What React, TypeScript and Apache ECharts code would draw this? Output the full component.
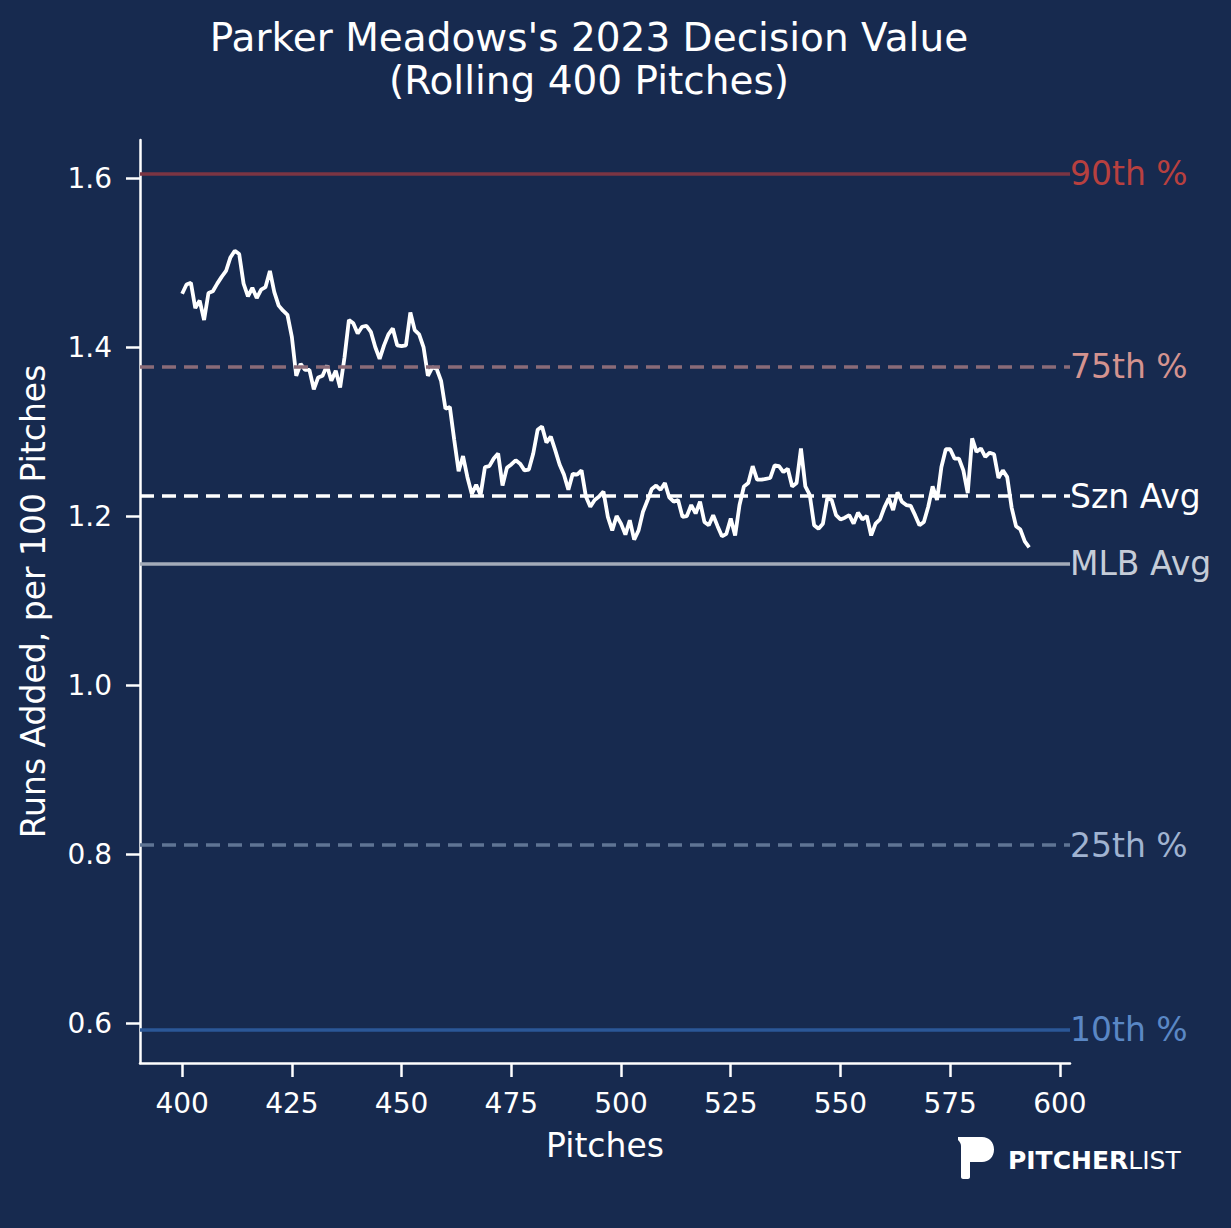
import { useEffect, useRef } from 'react'
import * as echarts from 'echarts'

// Rolling decision value, one point per pitch starting at pitch 400
const firstPitch = 400
const rollingValues = [
  1.463, 1.474, 1.476, 1.446, 1.455, 1.432, 1.464, 1.466, 1.475, 1.483,
  1.490, 1.506, 1.514, 1.510, 1.475, 1.460, 1.470, 1.458, 1.468, 1.471,
  1.490, 1.465, 1.449, 1.443, 1.438, 1.412, 1.366, 1.380, 1.373, 1.373,
  1.350, 1.364, 1.366, 1.378, 1.360, 1.372, 1.352, 1.388, 1.432, 1.428,
  1.416, 1.424, 1.425, 1.418, 1.400, 1.386, 1.402, 1.415, 1.422, 1.402,
  1.401, 1.402, 1.441, 1.420, 1.415, 1.400, 1.366, 1.376, 1.374, 1.360,
  1.327, 1.329, 1.290, 1.253, 1.271, 1.246, 1.226, 1.237, 1.225, 1.258,
  1.259, 1.268, 1.274, 1.236, 1.257, 1.261, 1.266, 1.262, 1.254, 1.255,
  1.274, 1.302, 1.306, 1.287, 1.294, 1.278, 1.261, 1.249, 1.231, 1.250,
  1.249, 1.254, 1.223, 1.211, 1.219, 1.223, 1.229, 1.199, 1.183, 1.200,
  1.191, 1.178, 1.195, 1.172, 1.183, 1.205, 1.218, 1.232, 1.236, 1.231,
  1.239, 1.222, 1.217, 1.219, 1.199, 1.200, 1.213, 1.203, 1.217, 1.193,
  1.189, 1.201, 1.188, 1.176, 1.179, 1.197, 1.177, 1.213, 1.235, 1.239,
  1.259, 1.243, 1.243, 1.244, 1.245, 1.260, 1.259, 1.252, 1.256, 1.235,
  1.239, 1.280, 1.235, 1.225, 1.189, 1.185, 1.191, 1.221, 1.219, 1.201,
  1.196, 1.198, 1.201, 1.191, 1.204, 1.196, 1.200, 1.177, 1.191, 1.196,
  1.210, 1.221, 1.207, 1.228, 1.217, 1.213, 1.212, 1.201, 1.189, 1.193,
  1.211, 1.235, 1.219, 1.258, 1.279, 1.279, 1.268, 1.268, 1.254, 1.227,
  1.292, 1.276, 1.280, 1.270, 1.275, 1.273, 1.245, 1.254, 1.246, 1.210,
  1.188, 1.184, 1.170, 1.163
]

// Reference lines
const refLabels = ['90th %', '75th %', 'Szn Avg', 'MLB Avg', '25th %', '10th %']
const refValues = [1.605, 1.377, 1.2235, 1.1435, 0.8105, 0.5925]
const refDashed = [false, true, true, false, true, false]
const refLineColors = ['#7b3543', '#8a6b78', '#ffffff', '#a3abb9', '#5f7494', '#2b5797']
const refTextColors = ['#b8403f', '#d4938f', '#ffffff', '#c5ccd8', '#a0b3d1', '#5a87c5']

const xTicks = [400, 425, 450, 475, 500, 525, 550, 575, 600]
const yTicks = [0.6, 0.8, 1.0, 1.2, 1.4, 1.6]

const BG = '#172a4f'
const FONT = '"DejaVu Sans", sans-serif'

echarts.graphic.registerShape(
  'plLogo',
  echarts.graphic.extendPath(
    'M0 0 L24 0 C31 0 36 5 36 12.5 C36 20 31 25 24 25 L12 25 L12 40 C12 41 11 42 10 42 L5 42 C4 42 3 41 3 40 L3 9 C3 7 2 5 0 3 Z',
    {}
  )
)

export default function App() {
  const chartRef = useRef<HTMLDivElement>(null)

  useEffect(() => {
    const host = chartRef.current
    if (!host) return
    document.body.style.margin = '0'
    document.body.style.background = BG

    const chart = echarts.init(host, null, { renderer: 'svg' })

    const option: echarts.EChartsOption = {
      animation: false,
      backgroundColor: BG,
      title: {
        text: "Parker Meadows's 2023 Decision Value\n(Rolling 400 Pitches)",
        left: 584,
        top: 11,
        textAlign: 'center',
        textStyle: {
          color: '#ffffff',
          fontFamily: FONT,
          fontWeight: 'normal',
          fontSize: 39,
          lineHeight: 43
        }
      },
      grid: {
        left: 140,
        right: 161,
        top: 140,
        bottom: 165
      },
      xAxis: {
        type: 'value',
        min: 390.4,
        max: 602.3,
        name: 'Pitches',
        nameLocation: 'middle',
        nameGap: 66,
        nameTextStyle: { color: '#ffffff', fontFamily: FONT, fontSize: 33 },
        splitLine: { show: false },
        axisLine: { lineStyle: { color: '#ffffff', width: 2.5 } },
        axisTick: {
          customValues: xTicks,
          length: 14,
          lineStyle: { color: '#ffffff', width: 2.5 }
        },
        axisLabel: {
          customValues: xTicks,
          color: '#ffffff',
          fontFamily: FONT,
          fontSize: 28,
          margin: 26
        }
      },
      yAxis: {
        type: 'value',
        min: 0.5527,
        max: 1.645,
        name: 'Runs Added, per 100 Pitches',
        nameLocation: 'middle',
        nameGap: 90,
        nameTextStyle: { color: '#ffffff', fontFamily: FONT, fontSize: 33 },
        splitLine: { show: false },
        axisLine: { show: true, lineStyle: { color: '#ffffff', width: 2.5 } },
        axisTick: {
          show: true,
          customValues: yTicks,
          length: 14,
          lineStyle: { color: '#ffffff', width: 2.5 }
        },
        axisLabel: {
          customValues: yTicks,
          color: '#ffffff',
          fontFamily: FONT,
          fontSize: 28,
          margin: 28,
          formatter: (v: number) => v.toFixed(1)
        }
      },
      series: [
        {
          type: 'line',
          data: rollingValues.map((v, i) => [firstPitch + i, v]),
          symbol: 'none',
          lineStyle: { color: '#ffffff', width: 3.8 },
          z: 3,
          markLine: {
            silent: true,
            symbol: 'none',
            precision: 4,
            z: 4,
            data: refValues.map((v, i) => ({
              yAxis: v,
              lineStyle: {
                color: refLineColors[i],
                width: 3.5,
                type: refDashed[i] ? [14, 8] : 'solid'
              },
              label: {
                show: true,
                position: 'end',
                distance: 0,
                formatter: refLabels[i],
                color: refTextColors[i],
                fontFamily: FONT,
                fontSize: 33
              }
            }))
          }
        }
      ],
      graphic: [
        {
          type: 'plLogo',
          x: 958,
          y: 1137,
          style: { fill: '#ffffff' }
        },
        {
          type: 'text',
          x: 1008,
          y: 1160,
          style: {
            text: '{b|PITCHER}{l|LIST}',
            verticalAlign: 'middle',
            rich: {
              b: { fontFamily: FONT, fontWeight: 'bold', fontSize: 25, fill: '#ffffff' },
              l: { fontFamily: FONT, fontWeight: 'normal', fontSize: 25, fill: '#ffffff' }
            }
          }
        }
      ]
    }

    chart.setOption(option)

    return () => {
      chart.dispose()
    }
  }, [])

  return <div ref={chartRef} style={{ width: 1231, height: 1228 }} />
}
